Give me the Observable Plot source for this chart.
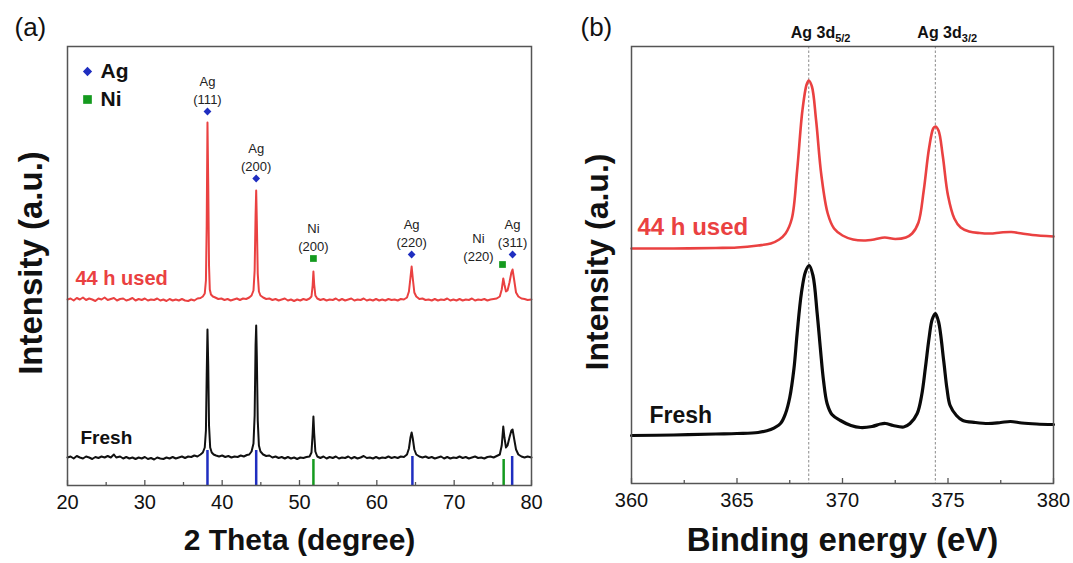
<!DOCTYPE html>
<html>
<head>
<meta charset="utf-8">
<script src="https://cdn.jsdelivr.net/npm/d3@7"></script>
<script src="https://cdn.jsdelivr.net/npm/@observablehq/plot@0.6"></script>
<style>
  html, body { margin: 0; padding: 0; background: #fff; }
  #wrap { position: relative; width: 1073px; height: 563px; overflow: hidden; }
  #wrap svg { position: absolute; top: 0; }
</style>
</head>
<body>
<div id="wrap"></div>
<script>
// ---------------- DATA (a) XRD ----------------
// [2theta (deg), intensity (a.u., stacked display)]
const xrd44h = [
[20,186],[20.4,187],[20.8,185],[21.2,187.5],[21.6,186],[22,188],[22.4,185.5],[22.8,187],[23.2,186],[23.6,184.5],[24,187],[24.4,186],[24.8,188],[25.2,185.5],[25.6,186.5],[26,187.5],[26.4,185],[26.8,186.5],[27.2,187],[27.6,185],[28,186],[28.4,187.5],[28.8,185],[29.2,186.5],[29.6,185.5],[30,187],[30.4,185],[30.8,186],[31.2,185.5],[31.6,187],[32,185],[32.4,186],[32.8,184.5],[33.2,186.5],[33.6,185],[34,186],[34.4,185],[34.8,186.5],[35.2,185],[35.6,184.5],[36,186],[36.4,185],[36.8,187],[37.2,187.5],[37.5,189],[37.75,192],[37.9,205],[38.0,260],[38.1,363],[38.2,300],[38.3,220],[38.4,196],[38.55,191],[38.8,189],[39.1,188],[39.5,186.5],[39.9,187],[40.3,185.5],[40.7,186.5],[41.1,185],[41.5,186],[41.9,187],[42.3,185.5],[42.7,187],[43.1,186.5],[43.5,188],[43.8,190],[44.05,195],[44.2,215],[44.32,270],[44.4,295],[44.48,265],[44.6,212],[44.75,194],[44.95,190],[45.3,188],[45.7,186.5],[46.1,187],[46.5,185.5],[46.9,186.5],[47.3,185],[47.7,186],[48.1,187],[48.5,185],[48.9,186],[49.3,184.5],[49.7,186],[50.1,185],[50.5,186.5],[50.9,185.5],[51.3,187],[51.55,189],[51.7,200],[51.8,214],[51.9,201],[52.05,190],[52.3,187],[52.7,185.5],[53.1,186.5],[53.5,185],[53.9,186],[54.3,185.5],[54.7,187],[55.1,185],[55.5,186.5],[55.9,185],[56.3,186],[56.7,187],[57.1,185],[57.5,186],[57.9,185.5],[58.3,187],[58.7,185],[59.1,186],[59.5,185],[59.9,186.5],[60.3,185],[60.7,186],[61.1,185],[61.5,186.5],[61.9,185.5],[62.3,186],[62.7,185],[63.1,186.5],[63.5,186],[63.9,188],[64.15,194],[64.35,208],[64.5,219],[64.65,207],[64.85,193],[65.1,189],[65.5,186.5],[65.9,187],[66.3,185.5],[66.7,186],[67.1,185],[67.5,186.5],[67.9,185],[68.3,186],[68.7,185.5],[69.1,187],[69.5,185],[69.9,186],[70.3,185],[70.7,186.5],[71.1,185],[71.5,186],[71.9,185.5],[72.3,187],[72.7,185],[73.1,186],[73.5,185.5],[73.9,186.5],[74.3,185],[74.7,186],[75.1,186.5],[75.5,187],[75.9,189],[76.15,196],[76.35,207],[76.5,201],[76.7,194],[76.9,195],[77.15,203],[77.4,213],[77.55,216],[77.75,206],[78.0,193],[78.3,189],[78.7,187],[79.1,186.5],[79.5,185.5],[80,186]
];
const xrdFresh = [
[20,28],[20.4,29],[20.8,27],[21.2,29.5],[21.6,28],[22,27],[22.4,29],[22.8,28],[23.2,26.5],[23.6,28.5],[24,27.5],[24.4,29],[24.8,28],[25.2,29.5],[25.6,28],[26,31],[26.3,28],[26.8,29],[27.2,27],[27.6,28.5],[28,27],[28.4,28],[28.8,26.5],[29.2,28],[29.6,27],[30,28.5],[30.4,26.5],[30.8,27.5],[31.2,26],[31.6,28],[32,27],[32.4,26.5],[32.8,28],[33.2,27],[33.6,28.5],[34,27],[34.4,28],[34.8,29],[35.2,27.5],[35.6,29],[36,28.5],[36.4,30],[36.8,29],[37.2,31],[37.5,33],[37.75,38],[37.9,55],[38.0,110],[38.1,156],[38.2,120],[38.3,60],[38.45,38],[38.65,33],[38.9,31],[39.2,30],[39.6,29],[40,30],[40.4,28.5],[40.8,29.5],[41.2,28],[41.6,29],[42,28.5],[42.4,30],[42.8,29],[43.2,30.5],[43.5,31],[43.8,34],[44.05,42],[44.2,70],[44.32,140],[44.4,160],[44.48,130],[44.6,65],[44.75,40],[44.95,34],[45.3,31],[45.7,29.5],[46.1,30],[46.5,28],[46.9,29],[47.3,27.5],[47.7,28.5],[48.1,27],[48.5,28.5],[48.9,27],[49.3,28],[49.7,26.5],[50.1,28],[50.5,27.5],[50.9,28.5],[51.3,29],[51.55,33],[51.7,52],[51.8,69],[51.9,52],[52.05,34],[52.3,29],[52.7,27.5],[53.1,29],[53.5,27],[53.9,28.5],[54.3,27.5],[54.7,29],[55.1,27],[55.5,28],[55.9,27.5],[56.3,29],[56.7,27],[57.1,28.5],[57.5,27],[57.9,28],[58.3,29.5],[58.7,27.5],[59.1,28],[59.5,27],[59.9,28.5],[60.3,27],[60.7,28],[61.1,27.5],[61.5,29],[61.9,27.5],[62.3,28.5],[62.7,27.5],[63.1,29],[63.5,28.5],[63.9,31],[64.15,37],[64.35,48],[64.5,53],[64.65,47],[64.85,36],[65.1,31],[65.5,29],[65.9,28],[66.3,29],[66.7,27.5],[67.1,28.5],[67.5,27],[67.9,28],[68.3,29],[68.7,27],[69.1,28.5],[69.5,27],[69.9,28],[70.3,27.5],[70.7,29],[71.1,27.5],[71.5,28.5],[71.9,27],[72.3,28],[72.7,29],[73.1,27.5],[73.5,28],[73.9,27],[74.3,28.5],[74.7,29],[75.1,28],[75.5,29.5],[75.9,31],[76.15,40],[76.35,59],[76.5,48],[76.7,38],[76.9,40],[77.15,48],[77.4,55],[77.55,56],[77.75,47],[78.0,36],[78.3,31],[78.7,29],[79.1,28],[79.5,29],[80,28]
];
// reference stick pattern
const agRefTheta = [38.1, 44.4, 64.6, 77.5];
const agRefInt   = [35, 35, 29, 29];
const niRefTheta = [51.8, 76.4];
const niRefInt   = [26, 26];
// peak annotations
const peakPhase = ["Ag", "Ag", "Ni", "Ag", "Ni", "Ag"];
const peakHkl   = ["(111)", "(200)", "(200)", "(220)", "(220)", "(311)"];
const peakTheta = [38.1, 44.4, 51.8, 64.5, 76.25, 77.55];
const peakMarkY = [374, 307, 227, 231, 221, 231];
const xTicksA = [20, 30, 40, 50, 60, 70, 80];
const xMinorA = [25, 35, 45, 55, 65, 75];

// ---------------- DATA (b) XPS ----------------
// [binding energy (eV), intensity (a.u., stacked display)]
const xps44h = [[360,235],[362,235],[364,235.5],[365,236],[366,238],[366.6,240],[367,244],[367.3,250],[367.6,265],[367.85,313],[368.1,373],[368.3,399],[368.4,403],[368.55,397],[368.75,363],[369.0,308],[369.3,270],[369.6,255],[370.0,248],[370.5,244],[371.0,243],[371.5,244],[372.0,246],[372.5,244.5],[373.0,246],[373.3,250],[373.6,261],[373.85,293],[374.1,335],[374.3,355],[374.4,357],[374.55,353],[374.75,328],[375.0,288],[375.3,265],[375.6,256],[376.0,252],[376.5,250.5],[377.0,250],[377.5,251],[378.0,251.5],[378.5,250],[379.0,248.5],[380,247]];
const xpsFresh = [[360,48],[362,48.5],[364,49.5],[365,50],[366,51],[366.6,54],[367.06,60],[367.3,70],[367.5,86],[367.7,115],[367.85,150],[368.05,190],[368.25,212],[368.42,218],[368.6,208],[368.8,170],[368.96,133],[369.1,103],[369.27,80],[369.5,69],[369.9,63],[370.4,58],[370.85,56],[371.4,57],[371.8,59.5],[372.04,60],[372.4,58],[372.9,56.5],[373.2,60],[373.54,70],[373.75,88],[373.93,116],[374.1,145],[374.25,164],[374.4,170],[374.55,162],[374.8,122],[374.95,95],[375.1,78],[375.4,68],[375.7,63],[376.3,61],[376.9,60],[377.5,61],[377.96,62],[378.5,60.5],[379.2,59.5],[380,59]];
const xpsLineBE    = [368.4, 374.4];
const xpsLineLabel = ["Ag 3d|5/2", "Ag 3d|3/2"];
const xTicksB = [360, 365, 370, 375, 380];
const xMinorB = [362.5, 367.5, 372.5, 377.5];

// ---------------- STYLE ----------------
const FONT = "'Liberation Sans', Arial, Helvetica, sans-serif";
const RED = "#ea4141", BLUE = "#1f2ec0", GREEN = "#149a1e", FRAME = "#555";

const agRef = agRefTheta.map((t, i) => ({t, v: agRefInt[i]}));
const niRef = niRefTheta.map((t, i) => ({t, v: niRefInt[i]}));
const peaks = peakTheta.map((t, i) => ({t, y: peakMarkY[i], phase: peakPhase[i], hkl: peakHkl[i]}));
const xpsLines = xpsLineBE.map((b, i) => ({b, label: xpsLineLabel[i]}));

const wrap = document.getElementById("wrap");

// ---------------- PANEL (a) ----------------
const hA = 563, mTA = 46, mBA = 78;
const frameHA = hA - mTA - mBA;
const plotA = Plot.plot({
  width: 545, height: hA,
  marginLeft: 67, marginRight: 14, marginTop: mTA, marginBottom: mBA,
  style: {fontFamily: FONT, fontSize: "20px", color: "#111", background: "transparent", overflow: "visible"},
  x: {domain: [20, 80], label: null},
  y: {domain: [0, frameHA], axis: null},
  marks: [
    Plot.ruleX(agRef, {x: "t", y1: 0, y2: "v", stroke: BLUE, strokeWidth: 2.5}),
    Plot.ruleX(niRef, {x: "t", y1: 0, y2: "v", stroke: GREEN, strokeWidth: 2.5}),
    Plot.line(xrdFresh, {x: d => d[0], y: d => d[1], stroke: "#111", strokeWidth: 2}),
    Plot.line(xrd44h, {x: d => d[0], y: d => d[1], stroke: RED, strokeWidth: 2}),
    Plot.dot(peaks.filter(d => d.phase === "Ag"), {x: "t", y: "y", symbol: "square", rotate: 45, r: 3.1, fill: BLUE, stroke: "none"}),
    Plot.dot(peaks.filter(d => d.phase === "Ni"), {x: "t", y: "y", symbol: "square", r: 3.8, fill: GREEN, stroke: "none"}),
    Plot.text(peaks.filter(d => d.hkl !== "(220)" || d.phase !== "Ni"), {x: "t", y: "y", text: d => d.phase + "\n" + d.hkl, lineAnchor: "bottom", dy: -8, fontSize: 13, lineHeight: 1.35, fill: "#222"}),
    Plot.text(peaks.filter(d => d.hkl === "(220)" && d.phase === "Ni"), {x: "t", y: "y", text: d => d.phase + "\n" + d.hkl, lineAnchor: "bottom", dy: -4, dx: -24, fontSize: 13, lineHeight: 1.35, fill: "#222"}),
    // legend
    Plot.dot(["Ag"], {frameAnchor: "top-left", dx: 20, dy: 25, symbol: "square", rotate: 45, r: 3.7, fill: BLUE, stroke: "none"}),
    Plot.dot(["Ni"], {frameAnchor: "top-left", dx: 20, dy: 53, symbol: "square", r: 4.9, fill: GREEN, stroke: "none"}),
    Plot.text(["Ag"], {frameAnchor: "top-left", dx: 33, dy: 25, text: d => d, textAnchor: "start", lineAnchor: "middle", fontSize: 21, fontWeight: "bold", fill: "#111"}),
    Plot.text(["Ni"], {frameAnchor: "top-left", dx: 33, dy: 53, text: d => d, textAnchor: "start", lineAnchor: "middle", fontSize: 21, fontWeight: "bold", fill: "#111"}),
    // series labels
    Plot.text(["44 h used"], {frameAnchor: "top-left", dx: 8, dy: 232, text: d => d, textAnchor: "start", lineAnchor: "middle", fontSize: 20, fontWeight: "bold", fill: RED}),
    Plot.text(["Fresh"], {frameAnchor: "top-left", dx: 13, dy: 391, text: d => d, textAnchor: "start", lineAnchor: "middle", fontSize: 19, fontWeight: "bold", fill: "#111"}),
    // ticks inside frame
    Plot.ruleX(xTicksA, {stroke: FRAME, strokeWidth: 1.3, insetTop: frameHA - 5}),
    Plot.ruleX(xMinorA, {stroke: FRAME, strokeWidth: 1.3, insetTop: frameHA - 3}),
    Plot.axisX({ticks: xTicksA, tickSize: 0, tickPadding: 9, fontSize: 20, label: null}),
    Plot.frame({stroke: FRAME, strokeWidth: 1.5}),
    // titles
    Plot.text(["2 Theta (degree)"], {frameAnchor: "bottom", dy: 55, text: d => d, lineAnchor: "middle", fontSize: 30, fontWeight: "bold", fill: "#111"}),
    Plot.text(["Intensity (a.u.)"], {frameAnchor: "left", dx: -36, dy: -3, rotate: -90, text: d => d, textAnchor: "middle", lineAnchor: "middle", fontSize: 33, fontWeight: "bold", fill: "#111"}),
    Plot.text(["(a)"], {frameAnchor: "top-left", dx: -53, dy: -19, text: d => d, textAnchor: "start", lineAnchor: "middle", fontSize: 26, fill: "#111"})
  ]
});
plotA.style.left = "0px";
wrap.appendChild(plotA);

// ---------------- PANEL (b) ----------------
const hB = 563, mTB = 46, mBB = 80;
const frameHB = hB - mTB - mBB;
const plotB = Plot.plot({
  width: 528, height: hB,
  marginLeft: 86, marginRight: 20, marginTop: mTB, marginBottom: mBB,
  style: {fontFamily: FONT, fontSize: "20px", color: "#111", background: "transparent", overflow: "visible"},
  x: {domain: [360, 380], label: null},
  y: {domain: [0, frameHB], axis: null},
  marks: [
    Plot.ruleX(xpsLines, {x: "b", stroke: "#8a8a8a", strokeWidth: 1, strokeDasharray: "2.5,2"}),
    Plot.line(xpsFresh, {x: d => d[0], y: d => d[1], stroke: "#0a0a0a", strokeWidth: 3.2, curve: "catmull-rom"}),
    Plot.line(xps44h, {x: d => d[0], y: d => d[1], stroke: RED, strokeWidth: 2.6, curve: "catmull-rom"}),
    Plot.text(xpsLines, {x: "b", frameAnchor: "top", text: "label", textAnchor: "start", dx: -18, dy: -14, lineAnchor: "middle", fontSize: 16, fontWeight: "bold", fill: "#111"}),
    Plot.text(["44 h used"], {frameAnchor: "top-left", dx: 6, dy: 181, text: d => d, textAnchor: "start", lineAnchor: "middle", fontSize: 24, fontWeight: "bold", fill: RED}),
    Plot.text(["Fresh"], {frameAnchor: "top-left", dx: 18, dy: 369, text: d => d, textAnchor: "start", lineAnchor: "middle", fontSize: 23, fontWeight: "bold", fill: "#111"}),
    Plot.ruleX(xTicksB, {stroke: FRAME, strokeWidth: 1.3, insetTop: frameHB - 5}),
    Plot.ruleX(xMinorB, {stroke: FRAME, strokeWidth: 1.3, insetTop: frameHB - 3}),
    Plot.axisX({ticks: xTicksB, tickSize: 0, tickPadding: 9, fontSize: 20, label: null}),
    Plot.frame({stroke: FRAME, strokeWidth: 1.5}),
    Plot.text(["Binding energy (eV)"], {frameAnchor: "bottom", dy: 57, text: d => d, lineAnchor: "middle", fontSize: 33, fontWeight: "bold", fill: "#111"}),
    Plot.text(["Intensity (a.u.)"], {frameAnchor: "left", dx: -34, dy: -3, rotate: -90, text: d => d, textAnchor: "middle", lineAnchor: "middle", fontSize: 32, fontWeight: "bold", fill: "#111"}),
    Plot.text(["(b)"], {frameAnchor: "top-left", dx: -51, dy: -19, text: d => d, textAnchor: "start", lineAnchor: "middle", fontSize: 26, fill: "#111"})
  ]
});
plotB.style.left = "545px";
wrap.appendChild(plotB);

// subscript formatting for XPS line labels ("main|sub")
for (const t of plotB.querySelectorAll("text")) {
  const s = t.textContent;
  if (s.includes("|")) {
    const [main, sub] = s.split("|");
    t.textContent = "";
    const a = document.createElementNS("http://www.w3.org/2000/svg", "tspan");
    a.textContent = main;
    const b = document.createElementNS("http://www.w3.org/2000/svg", "tspan");
    b.textContent = sub;
    b.setAttribute("font-size", "11");
    b.setAttribute("dy", "4");
    t.appendChild(a); t.appendChild(b);
  }
}
</script>
</body>
</html>
